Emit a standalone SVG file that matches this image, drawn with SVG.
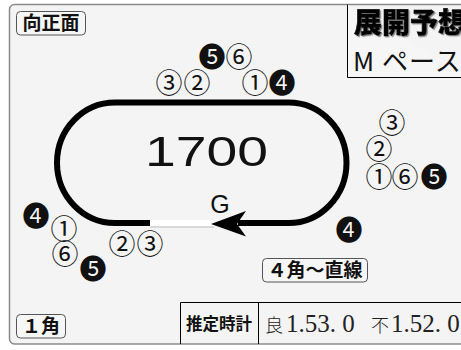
<svg xmlns="http://www.w3.org/2000/svg" width="461" height="350" viewBox="0 0 461 350">
<defs>
<style>
.frame{fill:#f4f4f4;stroke:#8a8a8a;stroke-width:1.5}
.lbl{fill:#f6f6f6;stroke:#555;stroke-width:1}
.lt{font-family:"Noto Sans CJK JP","Liberation Sans",sans-serif;font-size:19px;font-weight:bold;fill:#111;text-anchor:middle}
.c{font-family:"Noto Sans CJK JP","DejaVu Sans",sans-serif;font-size:27px;fill:#111;text-anchor:middle}
.track{fill:none;stroke:#000;stroke-width:6}
.line{stroke:#000;stroke-width:1}
</style>
<filter id="sh" x="-10%" y="-10%" width="130%" height="140%">
<feDropShadow dx="1.2" dy="1.2" stdDeviation="0.6" flood-color="#888"/>
</filter>
</defs>
<rect width="461" height="350" fill="#ffffff"/>
<rect class="frame" x="9.5" y="4.5" width="480" height="339.5" rx="5"/>

<g id="title">
<path d="M347.5 4.5 V77.5 H470" fill="#f6f6f6" stroke="#000" stroke-width="1"/>
<text x="354" y="33" font-family="Noto Sans CJK JP,sans-serif" font-size="28" font-weight="900" fill="#000" stroke="#000" stroke-width="0.6" filter="url(#sh)">展開予想</text>
<text x="353" y="71" font-family="Noto Sans CJK JP,sans-serif" font-size="26" fill="#111" letter-spacing="1">M ペース</text>
</g>

<g id="label-mukou">
<rect class="lbl" x="16.5" y="11.5" width="69" height="23.5" rx="4"/>
<text class="lt" x="51" y="30">向正面</text>
</g>
<g id="label-1kaku">
<rect class="lbl" x="16.5" y="314.5" width="49" height="23.5" rx="4"/>
<text class="lt" x="41" y="333">１角</text>
</g>
<g id="label-4kaku">
<rect class="lbl" x="262.5" y="258.5" width="105" height="23.5" rx="4"/>
<text class="lt" x="315" y="277">４角～直線</text>
</g>

<g id="track">
<path class="track" d="M150 223 H115 A58 60.25 0 0 1 115 102.5 H288.5 A58 60.25 0 0 1 288.5 223 H238"/>
<rect x="150" y="220" width="64" height="6.5" fill="#fff"/>
<line x1="150" y1="227" x2="214" y2="227" stroke="#bbb" stroke-width="1"/>
<path d="M211 224 L246 211 L237 224 L246 236.5 Z" fill="#000"/>
<text x="220" y="213" font-family="Liberation Sans,Arial,sans-serif" font-size="25" fill="#111" text-anchor="middle">G</text>
<text x="145" y="166" font-family="Liberation Sans,Arial,sans-serif" font-size="42" fill="#111" textLength="123" lengthAdjust="spacingAndGlyphs">1700</text>
</g>

<g id="horses-top">
<text class="c" x="212" y="67">❺</text>
<text class="c" x="239" y="67">⑥</text>
<text class="c" x="169" y="93">③</text>
<text class="c" x="197" y="93">②</text>
<text class="c" x="255" y="93">①</text>
<text class="c" x="282" y="93">❹</text>
</g>
<g id="horses-right">
<text class="c" x="392" y="133">③</text>
<text class="c" x="379" y="159">②</text>
<text class="c" x="379" y="187">①</text>
<text class="c" x="405" y="187">⑥</text>
<text class="c" x="434" y="187">❺</text>
<text class="c" x="349" y="240">❹</text>
</g>
<g id="horses-left">
<text class="c" x="36" y="226">❹</text>
<text class="c" x="64" y="239">①</text>
<text class="c" x="65" y="264">⑥</text>
<text class="c" x="93" y="279">❺</text>
<text class="c" x="122" y="254">②</text>
<text class="c" x="150" y="254">③</text>
</g>

<g id="time-table">
<path class="line" d="M180.5 344 V302.5 H470 M258.5 302.5 V344" fill="none"/>
<text x="219" y="330" font-family="Noto Sans CJK JP,sans-serif" font-size="16.5" font-weight="bold" fill="#111" text-anchor="middle">推定時計</text>
<text x="265" y="332" font-family="Liberation Serif,Noto Sans CJK JP,serif" font-size="25" fill="#222"><tspan font-family="Noto Sans CJK JP,sans-serif" font-size="18" font-weight="300">良</tspan><tspan x="286">1.53. 0</tspan><tspan x="371" font-family="Noto Sans CJK JP,sans-serif" font-size="18" font-weight="300">不</tspan><tspan x="391">1.52. 0</tspan></text>
</g>
</svg>
